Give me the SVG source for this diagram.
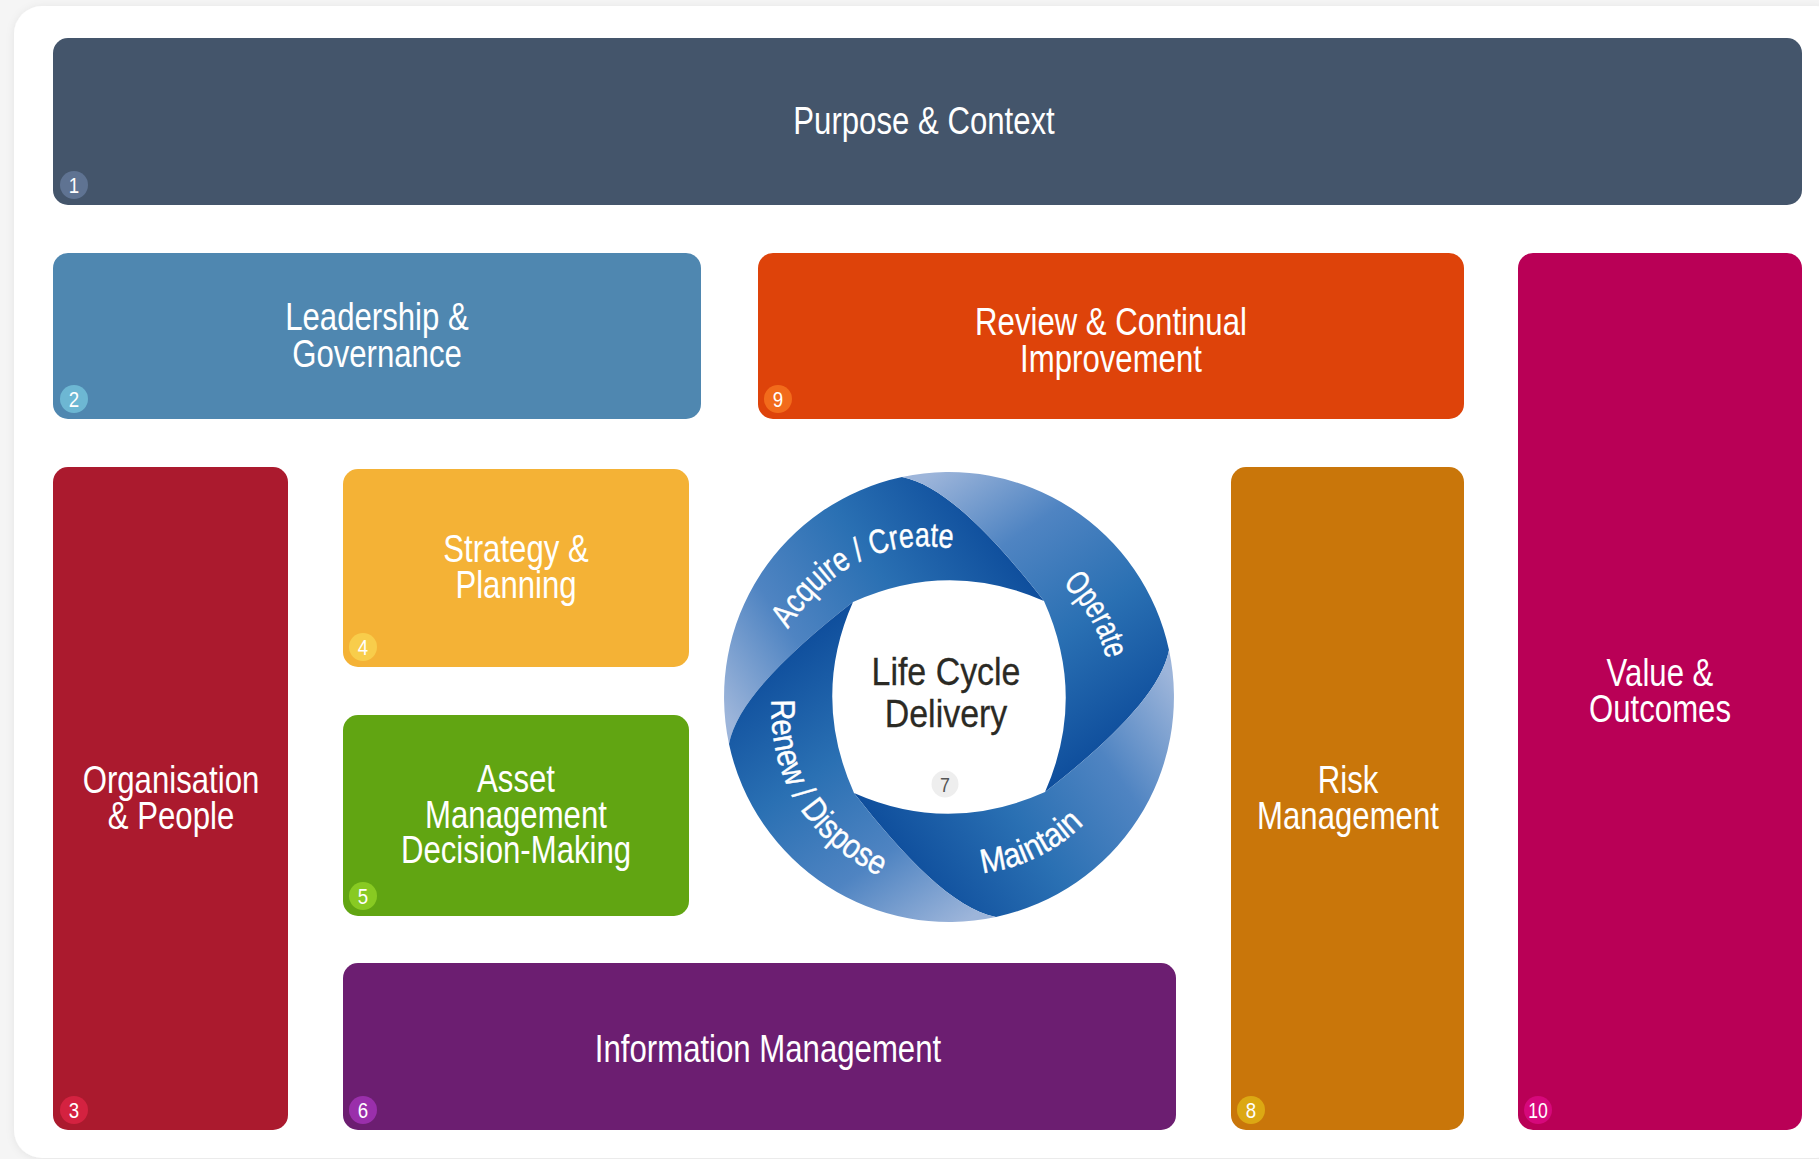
<svg xmlns="http://www.w3.org/2000/svg" xmlns:xlink="http://www.w3.org/1999/xlink" width="1819" height="1159" viewBox="0 0 1819 1159">
<defs>
<style>
.lbl{font-family:"Liberation Sans",Arial,sans-serif;font-size:38px;fill:#ffffff;text-anchor:middle}
.num{font-family:"Liberation Sans",Arial,sans-serif;font-size:22px;fill:#ffffff;text-anchor:middle}
.ring{font-family:"Liberation Sans",Arial,sans-serif;font-size:34px;fill:#ffffff;stroke:#ffffff;stroke-width:0.4}
.ctr{font-family:"Liberation Sans",Arial,sans-serif;font-size:39px;fill:#2b2a24;stroke:#2b2a24;stroke-width:0.3;text-anchor:middle}
</style>
<filter id="shadow" x="-5%" y="-5%" width="110%" height="110%">
<feDropShadow dx="0" dy="1" stdDeviation="4" flood-color="#000000" flood-opacity="0.07"/>
</filter>
<linearGradient id="segGrad" gradientUnits="userSpaceOnUse" x1="-215" y1="30" x2="60" y2="-160">
<stop offset="0" stop-color="#9db5da"/>
<stop offset="0.3" stop-color="#4f84c2"/>
<stop offset="0.62" stop-color="#2a70b3"/>
<stop offset="1" stop-color="#0d4c9b"/>
</linearGradient>
<path id="seg" fill="url(#segGrad)" d="M -220 47 A 225 225 0 0 1 -47 -220 C -5 -212 45 -160 95 -96 Q 0 -138 -96 -95 C -160 -45 -212 5 -220 47 Z"/>
<path id="pAcq" d="M 779.7 642 Q 849.5 525.8 964.4 550.8"/>
<path id="pOp" d="M 1047.5 570.9 Q 1108.65 618.45 1112 697"/>
<path id="pMa" d="M 961.4 874.6 Q 1046.4 873.15 1102.2 804.3"/>
<path id="pRe" d="M 772.7 681.6 Q 757.6 823.9 898.5 885.4"/>
</defs>

<rect x="0" y="0" width="1819" height="1159" fill="#f5f5f5"/>
<rect x="14" y="6" width="1830" height="1152" rx="28" fill="#ffffff" filter="url(#shadow)"/>

<g id="connectors"></g>

<g id="n1">
<rect x="53" y="38" width="1749" height="167" rx="15" fill="#44556b"/>
<text class="lbl" transform="translate(924,0) scale(0.82,1)" x="0" y="134">Purpose &amp; Context</text>
<circle cx="74" cy="185" r="14" fill="#5f7392"/>
<text class="num" transform="translate(74,0) scale(0.85,1)" x="0" y="193">1</text>
</g>

<g id="n2">
<rect x="53" y="253" width="648" height="166" rx="15" fill="#4f87b0"/>
<text class="lbl" transform="translate(377,0) scale(0.82,1)"><tspan x="0" y="330">Leadership &amp;</tspan><tspan x="0" y="367">Governance</tspan></text>
<circle cx="74" cy="399" r="14" fill="#6db7d3"/>
<text class="num" transform="translate(74,0) scale(0.85,1)" x="0" y="407">2</text>
</g>

<g id="n9">
<rect x="758" y="253" width="706" height="166" rx="15" fill="#de430a"/>
<text class="lbl" transform="translate(1111,0) scale(0.82,1)"><tspan x="0" y="335">Review &amp; Continual</tspan><tspan x="0" y="372">Improvement</tspan></text>
<circle cx="778" cy="399" r="14" fill="#f26b1b"/>
<text class="num" transform="translate(778,0) scale(0.85,1)" x="0" y="407">9</text>
</g>

<g id="n10">
<rect x="1518" y="253" width="284" height="877" rx="15" fill="#b90056"/>
<text class="lbl" transform="translate(1660,0) scale(0.82,1)"><tspan x="0" y="686">Value &amp;</tspan><tspan x="0" y="722">Outcomes</tspan></text>
<circle cx="1538" cy="1110" r="14" fill="#d6087b"/>
<text class="num" transform="translate(1538,0) scale(0.8,1)" x="0" y="1118">10</text>
</g>

<g id="n3">
<rect x="53" y="467" width="235" height="663" rx="15" fill="#ab1a2e"/>
<text class="lbl" transform="translate(171,0) scale(0.82,1)"><tspan x="0" y="793">Organisation</tspan><tspan x="0" y="829">&amp; People</tspan></text>
<circle cx="74" cy="1110" r="14" fill="#d42240"/>
<text class="num" transform="translate(74,0) scale(0.85,1)" x="0" y="1118">3</text>
</g>

<g id="n4">
<rect x="343" y="469" width="346" height="198" rx="15" fill="#f4b236"/>
<text class="lbl" transform="translate(516,0) scale(0.82,1)"><tspan x="0" y="562">Strategy &amp;</tspan><tspan x="0" y="598">Planning</tspan></text>
<circle cx="363" cy="647" r="14" fill="#f8cd4b"/>
<text class="num" transform="translate(363,0) scale(0.85,1)" x="0" y="655">4</text>
</g>

<g id="n5">
<rect x="343" y="715" width="346" height="201" rx="15" fill="#61a512"/>
<text class="lbl" transform="translate(516,0) scale(0.82,1)"><tspan x="0" y="792">Asset</tspan><tspan x="0" y="828">Management</tspan><tspan x="0" y="863">Decision-Making</tspan></text>
<circle cx="363" cy="896" r="14" fill="#88ca22"/>
<text class="num" transform="translate(363,0) scale(0.85,1)" x="0" y="904">5</text>
</g>

<g id="n6">
<rect x="343" y="963" width="833" height="167" rx="15" fill="#6c1e71"/>
<text class="lbl" transform="translate(768,0) scale(0.82,1)" x="0" y="1062">Information Management</text>
<circle cx="363" cy="1110" r="14" fill="#9a2fab"/>
<text class="num" transform="translate(363,0) scale(0.85,1)" x="0" y="1118">6</text>
</g>

<g id="n8">
<rect x="1231" y="467" width="233" height="663" rx="15" fill="#c9760a"/>
<text class="lbl" transform="translate(1348,0) scale(0.82,1)"><tspan x="0" y="793">Risk</tspan><tspan x="0" y="829">Management</tspan></text>
<circle cx="1251" cy="1110" r="14" fill="#dca813"/>
<text class="num" transform="translate(1251,0) scale(0.85,1)" x="0" y="1118">8</text>
</g>

<g id="n7">
<g transform="translate(949,697)">
<use xlink:href="#seg" href="#seg"/>
<use xlink:href="#seg" href="#seg" transform="rotate(90)"/>
<use xlink:href="#seg" href="#seg" transform="rotate(180)"/>
<use xlink:href="#seg" href="#seg" transform="rotate(270)"/>
</g>
<text class="ring"><textPath href="#pAcq" xlink:href="#pAcq" startOffset="15" textLength="195" lengthAdjust="spacingAndGlyphs">Acquire / Create</textPath></text>
<text class="ring"><textPath href="#pOp" xlink:href="#pOp" startOffset="20" textLength="88" lengthAdjust="spacingAndGlyphs">Operate</textPath></text>
<text class="ring"><textPath href="#pMa" xlink:href="#pMa" startOffset="21" textLength="115" lengthAdjust="spacingAndGlyphs">Maintain</textPath></text>
<text class="ring"><textPath href="#pRe" xlink:href="#pRe" startOffset="18" textLength="220" lengthAdjust="spacingAndGlyphs">Renew / Dispose</textPath></text>
<text class="ctr" transform="translate(946,0) scale(0.87,1)"><tspan x="0" y="685">Life Cycle</tspan><tspan x="0" y="727">Delivery</tspan></text>
<circle cx="945" cy="784" r="13.5" fill="#eeeeee"/>
<text class="num" style="fill:#555555;font-size:21px" transform="translate(945,0) scale(0.85,1)" x="0" y="792">7</text>
</g>
</svg>
